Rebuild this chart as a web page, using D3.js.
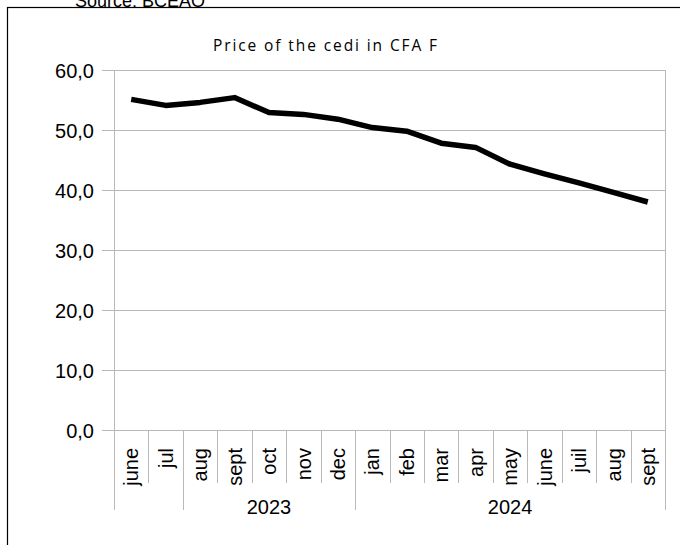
<!DOCTYPE html>
<html>
<head>
<meta charset="utf-8">
<script src="https://cdn.jsdelivr.net/npm/d3@7"></script>
<style>
  body { margin: 0; background: #fff; }
  svg { display: block; }
</style>
</head>
<body>
<div class="canvas"></div>
<script>
// data
const months = ["june", "jul", "aug", "sept", "oct", "nov", "dec",
  "jan", "feb", "mar", "apr", "may", "june", "juil", "aug", "sept"];
const cediPrice = [55.1, 54.1, 54.6, 55.4, 52.9, 52.6, 51.8,
  50.4, 49.8, 47.8, 47.1, 44.3, 42.7, 41.2, 39.6, 38.0];
const yTicks = [0, 10, 20, 30, 40, 50, 60];
const years = ["2023", "2024"];
const yearFrom = [2, 7];   // index of first month under the label (as drawn in source)
const yearTo = [7, 16];

const W = 680, H = 545;
const plotL = 114, plotR = 665, plotT = 70, plotB = 430;
const font = "'Liberation Sans', Arial, sans-serif";

const svg = d3.select(".canvas")
  .append("svg")
  .attr("width", W)
  .attr("height", H);

// source line, half hidden behind the frame
svg.append("text")
  .attr("x", 75)
  .attr("y", 7)
  .attr("font-family", font)
  .attr("font-size", 18)
  .attr("fill", "#000")
  .text("Source: BCEAO");

svg.append("rect")
  .attr("x", 7.5)
  .attr("y", 7.5)
  .attr("width", W)
  .attr("height", H)
  .attr("fill", "#fff")
  .attr("stroke", "#000")
  .attr("stroke-width", 1.2);

svg.append("text")
  .attr("x", 326)
  .attr("y", 51)
  .attr("text-anchor", "middle")
  .attr("font-family", "'Open Sans', sans-serif")
  .attr("font-size", 15.5)
  .attr("letter-spacing", 1.9)
  .text("Price of the cedi in CFA F");

const x = d3.scaleBand()
  .domain(d3.range(months.length))
  .range([plotL, plotR])
  .padding(0);

const y = d3.scaleLinear()
  .domain([0, 60])
  .range([plotB, plotT]);

const grey = "#b8b8b8";

// horizontal grid
svg.append("g")
  .selectAll("line")
  .data(yTicks)
  .join("line")
  .attr("x1", plotL - 12)
  .attr("x2", plotR)
  .attr("y1", d => y(d) + 0.5)
  .attr("y2", d => y(d) + 0.5)
  .attr("stroke", grey)
  .attr("stroke-width", 1);

// y labels
const fmt = d => d3.format(".1f")(d).replace(".", ",");
svg.append("g")
  .selectAll("text")
  .data(yTicks)
  .join("text")
  .attr("x", 94)
  .attr("y", d => y(d))
  .attr("dy", "0.4em")
  .attr("text-anchor", "end")
  .attr("font-family", font)
  .attr("font-size", 20)
  .text(fmt);

// vertical plot borders
[plotL, plotR].forEach(px => {
  svg.append("line")
    .attr("x1", px + 0.5).attr("x2", px + 0.5)
    .attr("y1", plotT).attr("y2", plotB)
    .attr("stroke", grey);
});

// month separators
const bounds = d3.range(months.length + 1).map(i => i < months.length ? x(i) : x.range()[1]);
svg.append("g")
  .selectAll("line")
  .data(bounds)
  .join("line")
  .attr("x1", d => Math.round(d) + 0.5)
  .attr("x2", d => Math.round(d) + 0.5)
  .attr("y1", plotB)
  .attr("y2", plotB + 53)
  .attr("stroke", grey);

// year separators
const yearBounds = [0].concat(yearFrom, [months.length]);
svg.append("g")
  .selectAll("line")
  .data(Array.from(new Set(yearBounds)))
  .join("line")
  .attr("x1", i => Math.round(i < months.length ? x(i) : plotR) + 0.5)
  .attr("x2", i => Math.round(i < months.length ? x(i) : plotR) + 0.5)
  .attr("y1", i => i === 0 ? plotB : plotB + 52)
  .attr("y2", plotB + 80)
  .attr("stroke", grey);

// month labels
svg.append("g")
  .selectAll("text")
  .data(months)
  .join("text")
  .attr("transform", (d, i) => `translate(${x(i) + x.bandwidth() / 2},${plotB + 18}) rotate(-90)`)
  .attr("text-anchor", "end")
  .attr("dy", "0.36em")
  .attr("font-family", font)
  .attr("font-size", 20)
  .text(d => d);

// year labels
svg.append("g")
  .selectAll("text")
  .data(years)
  .join("text")
  .attr("x", (d, i) => ((yearTo[i] < months.length ? x(yearTo[i]) : plotR) + x(yearFrom[i])) / 2)
  .attr("y", plotB + 84)
  .attr("text-anchor", "middle")
  .attr("font-family", font)
  .attr("font-size", 20)
  .text(d => d);

// the price line
const line = d3.line()
  .x((d, i) => x(i) + x.bandwidth() / 2)
  .y(d => y(d));

svg.append("path")
  .datum(cediPrice)
  .attr("d", line)
  .attr("fill", "none")
  .attr("stroke", "#000")
  .attr("stroke-width", 5.5)
  .attr("stroke-linejoin", "round");
</script>
</body>
</html>
